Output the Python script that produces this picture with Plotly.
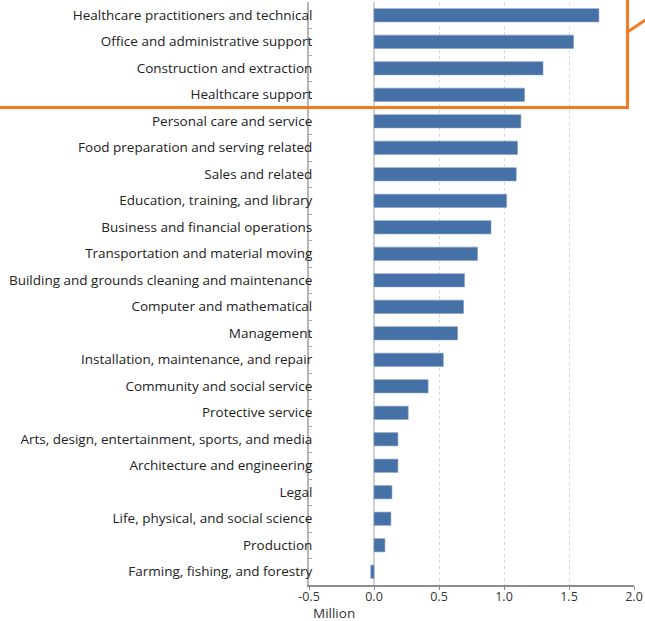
import plotly.graph_objects as go

# Occupation groups, top to bottom, and their change (millions)
occupations = [
    "Healthcare practitioners and technical",
    "Office and administrative support",
    "Construction and extraction",
    "Healthcare support",
    "Personal care and service",
    "Food preparation and serving related",
    "Sales and related",
    "Education, training, and library",
    "Business and financial operations",
    "Transportation and material moving",
    "Building and grounds cleaning and maintenance",
    "Computer and mathematical",
    "Management",
    "Installation, maintenance, and repair",
    "Community and social service",
    "Protective service",
    "Arts, design, entertainment, sports, and media",
    "Architecture and engineering",
    "Legal",
    "Life, physical, and social science",
    "Production",
    "Farming, fishing, and forestry",
]
change_millions = [
    1.73, 1.535, 1.30, 1.158, 1.13, 1.104, 1.094, 1.02, 0.90, 0.796, 0.696,
    0.689, 0.643, 0.533, 0.416, 0.263, 0.184, 0.184, 0.138, 0.130, 0.084, -0.025,
]
x_ticks = [-0.5, 0.0, 0.5, 1.0, 1.5, 2.0]

W, H = 645, 621
ML, MR, MT, MB = 309, 9, 2, 36
PW, PH = W - ML - MR, H - MT - MB


def px(x):
    return (x - ML) / PW


def py(y):
    return (H - MB - y) / PH


fig = go.Figure(
    go.Bar(
        x=change_millions,
        y=occupations,
        orientation="h",
        marker=dict(color="#4571a7", line=dict(color="#7f9cc6", width=0.6)),
        hoverinfo="x+y",
    )
)

fig.update_layout(
    width=W,
    height=H,
    margin=dict(l=ML, r=MR, t=MT, b=MB),
    paper_bgcolor="white",
    plot_bgcolor="white",
    bargap=0.5,
    showlegend=False,
    font=dict(family="Open Sans", size=13, color="#222222"),
    xaxis=dict(
        range=[-0.5, 2.0],
        tickvals=x_ticks,
        ticktext=[f"{v:.1f}" for v in x_ticks],
        showgrid=True,
        gridcolor="#d9d9d9",
        griddash="dot",
        gridwidth=1,
        zeroline=True,
        zerolinecolor="#d0d0d0",
        zerolinewidth=2,
        showline=True,
        linecolor="#8c8c8c",
        linewidth=2,
        ticks="outside",
        ticklen=3,
        tickcolor="#8c8c8c",
        ticklabelstandoff=-4,
        tickfont=dict(size=12.5, color="#333333"),
    ),
    yaxis=dict(
        autorange="reversed",
        showgrid=False,
        showline=True,
        linecolor="#b5b5b5",
        linewidth=2,
        ticks="inside",
        tickson="boundaries",
        ticklen=3,
        tickcolor="#a8a8a8",
        tickfont=dict(size=13.5, color="#222222"),
        ticklabelstandoff=-8,
    ),
    annotations=[
        dict(
            text="Million",
            xref="paper",
            yref="paper",
            x=px(334),
            y=py(613),
            xanchor="center",
            yanchor="middle",
            showarrow=False,
            font=dict(size=13.5, color="#333333"),
        )
    ],
    shapes=[
        dict(
            type="rect",
            xref="paper",
            yref="paper",
            x0=px(-10),
            x1=px(629.5),
            y0=py(107.5),
            y1=py(-10),
            line=dict(color="#f47a22", width=3),
            fillcolor="rgba(0,0,0,0)",
        ),
        dict(
            type="line",
            xref="paper",
            yref="paper",
            x0=px(629.5),
            y0=py(32),
            x1=px(652),
            y1=py(17),
            line=dict(color="#f47a22", width=3),
        ),
    ],
)

fig.write_html("out.html")
